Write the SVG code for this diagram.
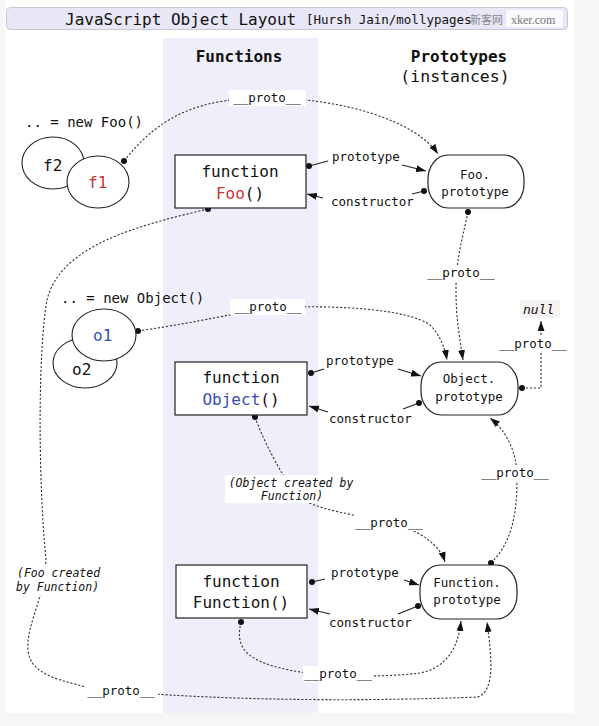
<svg xmlns="http://www.w3.org/2000/svg" width="599" height="726" viewBox="0 0 599 726">
<style>
text{font-family:"DejaVu Sans Mono","Liberation Mono",monospace;fill:#111}
.c{text-anchor:middle}
.box{fill:#fff;stroke:#222;stroke-width:1.2}
.ell{fill:#fff;stroke:#222;stroke-width:1.1}
.d{fill:none;stroke:#333;stroke-width:1.1;stroke-dasharray:2.2 1.8}
.s{fill:none;stroke:#222;stroke-width:1.2}
.dot{fill:#111}
.lb{fill:#fff}
.n{font-size:16px}
.sm{font-size:12.5px}
.it{font-size:11.5px;font-style:italic}
.red{fill:#cc3333}
.blue{fill:#3a4db5}
</style>
<defs>
<marker id="ah" viewBox="0 0 10 7" refX="10" refY="3.5" markerWidth="10" markerHeight="7" markerUnits="userSpaceOnUse" orient="auto">
<path d="M0,0 L10,3.5 L0,7 z" fill="#111"/>
</marker>
</defs>
<rect x="0" y="0" width="599" height="726" fill="#f6f6f6"/>
<rect x="5" y="0" width="569" height="713" fill="#fff"/>
<rect x="163" y="38" width="155" height="675" fill="#efeffb"/>
<g id="title">
<rect x="6.5" y="7.5" width="561" height="22" rx="4" fill="#e7e7f6" stroke="#c6c6d6"/>
<rect x="506" y="10" width="57" height="17" fill="#fafafc"/>
<text x="65" y="25" font-size="16">JavaScript Object Layout</text>
<text x="306" y="24" font-size="12.5">[Hursh Jain/mollypages</text>
<text x="470" y="24" font-size="11" style="font-family:'Noto Sans CJK SC',serif;fill:#888">新客网</text>
<text x="511" y="24" font-size="12" style="font-family:'Liberation Serif',serif;fill:#777">xker.com</text>
</g>
<g id="headers">
<text class="c" x="239" y="62" font-size="16" font-weight="bold">Functions</text>
<text class="c" x="459" y="62" font-size="16" font-weight="bold">Prototypes</text>
<text class="c" x="455" y="82" font-size="16.5">(instances)</text>
</g>
<g id="connectors">
<path class="d" d="M124,161 C160,115 200,98 267,98 C340,98 415,120 438,154" marker-end="url(#ah)"/>
<path class="s" d="M309,166 L328,161"/>
<path class="s" d="M402,165 L426,171" marker-end="url(#ah)"/>
<path class="s" d="M424,191 L412,194"/>
<path class="s" d="M323,198 L307,194" marker-end="url(#ah)"/>
<path class="d" d="M468,212 C462,240 456,260 456,290 C456,320 460,340 463,360" marker-end="url(#ah)"/>
<path class="d" d="M138,331 C200,322 240,312 268,308 C340,304 410,310 430,325 C440,335 445,348 447,360" marker-end="url(#ah)"/>
<path class="s" d="M311,373 L324,369"/>
<path class="s" d="M398,369 L421,376" marker-end="url(#ah)"/>
<path class="s" d="M419,403 L403,409"/>
<path class="s" d="M328,412 L309,406" marker-end="url(#ah)"/>
<path class="d" d="M522,388 L541,388 L541,321" marker-end="url(#ah)"/>
<path class="d" d="M255,417 C265,445 280,470 292,490 C305,508 340,512 388,522 C420,530 440,545 445,562" marker-end="url(#ah)"/>
<path class="d" d="M491,563 C515,540 517,505 517,477 C517,450 505,430 490,418" marker-end="url(#ah)"/>
<path class="s" d="M312,582 L325,579"/>
<path class="s" d="M404,580 L419,585" marker-end="url(#ah)"/>
<path class="s" d="M418,606 L398,614"/>
<path class="s" d="M330,614 L309,609" marker-end="url(#ah)"/>
<path class="d" d="M241,622 C236,645 240,662 300,672 C330,676 380,678 420,673 C445,668 458,650 461,621" marker-end="url(#ah)"/>
<path class="d" d="M208,209 C140,225 60,245 47,300 C38,350 38,480 46,560 C44,600 26,625 28,650 C30,675 60,680 90,688 C150,696 300,704 478,697 C495,690 492,660 487,622" marker-end="url(#ah)"/>
<circle class="dot" cx="124" cy="161" r="3"/>
<circle class="dot" cx="309" cy="166" r="3"/>
<circle class="dot" cx="424" cy="191" r="3"/>
<circle class="dot" cx="468" cy="212" r="3"/>
<circle class="dot" cx="138" cy="331" r="3"/>
<circle class="dot" cx="311" cy="373" r="3"/>
<circle class="dot" cx="419" cy="403" r="3"/>
<circle class="dot" cx="522" cy="388" r="3"/>
<circle class="dot" cx="255" cy="417" r="3"/>
<circle class="dot" cx="491" cy="563" r="3"/>
<circle class="dot" cx="312" cy="582" r="3"/>
<circle class="dot" cx="418" cy="606" r="3"/>
<circle class="dot" cx="241" cy="622" r="3"/>
<circle class="dot" cx="208" cy="209" r="3"/>
<g id="labels">
<rect class="lb" x="229" y="90" width="77" height="16"/>
<text class="sm" x="267" y="102" text-anchor="middle">__proto__</text>
<text class="sm" x="332" y="161">prototype</text>
<text class="sm" x="331" y="206">constructor</text>
<rect class="lb" x="426" y="265" width="72" height="16"/>
<text class="sm c" x="461" y="277">__proto__</text>
<rect class="lb" x="230" y="299" width="75" height="16"/>
<text class="sm c" x="268" y="311">__proto__</text>
<text class="sm" x="326" y="365">prototype</text>
<text class="sm" x="329" y="423">constructor</text>
<rect class="lb" x="499" y="336" width="70" height="16"/>
<text class="sm c" x="533" y="348">__proto__</text>
<rect class="lb" x="225" y="475" width="131" height="28"/>
<text class="it c" x="291" y="487">(Object created by</text>
<text class="it c" x="292" y="500">Function)</text>
<rect class="lb" x="354" y="515" width="71" height="16"/>
<text class="sm c" x="389" y="527">__proto__</text>
<rect class="lb" x="481" y="465" width="70" height="16"/>
<text class="sm c" x="515" y="477">__proto__</text>
<text class="sm" x="331" y="577">prototype</text>
<text class="sm" x="329" y="627">constructor</text>
<rect class="lb" x="303" y="666" width="71" height="16"/>
<text class="sm c" x="338" y="678">__proto__</text>
<rect class="lb" x="14" y="566" width="88" height="29"/>
<text class="it" x="17" y="577">(Foo created</text>
<text class="it" x="16" y="591">by Function)</text>
<rect class="lb" x="86" y="683" width="72" height="16"/>
<text class="sm c" x="121" y="695">__proto__</text>
</g>
</g>
<g id="newFoo">
<text x="25" y="127" font-size="14">.. = new Foo()</text>
</g>
<g id="f2">
<ellipse class="ell" cx="53" cy="163" rx="31" ry="26"/>
<text class="n" x="43" y="171">f2</text>
</g>
<g id="f1">
<ellipse class="ell" cx="98" cy="182" rx="31" ry="26"/>
<text class="n red" x="88" y="188">f1</text>
</g>
<g id="Foo">
<rect class="box" x="175" y="155" width="131" height="53"/>
<text class="n c" x="240" y="177">function</text>
<text class="n c" x="240" y="199"><tspan class="red">Foo</tspan>()</text>
</g>
<g id="FooPrototype">
<rect class="box" x="428" y="155" width="96" height="53" rx="20" ry="24"/>
<text class="c" x="475" y="179" font-size="12.5">Foo.</text>
<text class="c" x="475" y="196" font-size="12.5">prototype</text>
</g>
<g id="newObject">
<text x="61" y="303" font-size="14">.. = new Object()</text>
</g>
<g id="o2">
<ellipse class="ell" cx="85" cy="363" rx="32" ry="25"/>
<text class="n" x="72" y="375">o2</text>
</g>
<g id="o1">
<ellipse class="ell" cx="104" cy="335" rx="32" ry="26"/>
<text class="n blue" x="93" y="341">o1</text>
</g>
<g id="Object">
<rect class="box" x="175" y="362" width="132" height="53"/>
<text class="n c" x="241" y="383">function</text>
<text class="n c" x="241" y="405"><tspan class="blue">Object</tspan>()</text>
</g>
<g id="ObjectPrototype">
<rect class="box" x="421" y="362" width="97" height="53" rx="20" ry="24"/>
<text class="c" x="469" y="383" font-size="12.5">Object.</text>
<text class="c" x="469" y="401" font-size="12.5">prototype</text>
</g>
<g id="null">
<rect x="520" y="300" width="40" height="18" fill="#f7f3f1"/>
<text x="523" y="314" font-size="13" font-style="italic">null</text>
</g>
<g id="Function">
<rect class="box" x="176" y="565" width="131" height="53"/>
<text class="n c" x="241" y="587">function</text>
<text class="n c" x="241" y="608">Function()</text>
</g>
<g id="FunctionPrototype">
<rect class="box" x="420" y="565" width="97" height="54" rx="20" ry="24"/>
<text class="c" x="467" y="587" font-size="12.5">Function.</text>
<text class="c" x="467" y="604" font-size="12.5">prototype</text>
</g>
</svg>
